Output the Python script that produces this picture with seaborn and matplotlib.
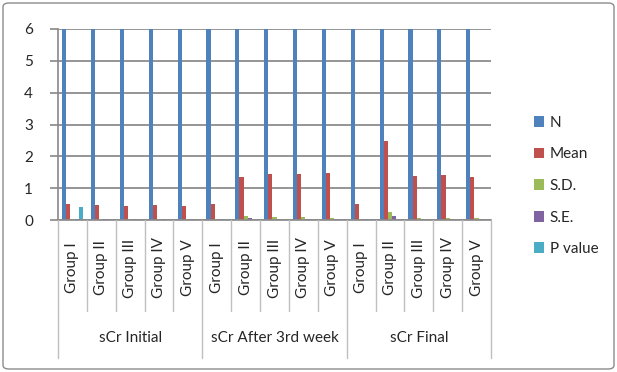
import matplotlib.pyplot as plt
import numpy as np
import pandas as pd
import seaborn as sns
from matplotlib.lines import Line2D
from matplotlib.patches import FancyBboxPatch, Patch
from matplotlib.transforms import blended_transform_factory

# Chart data
categories = ["sCr Initial", "sCr After 3rd week", "sCr Final"]
groups = ["Group I", "Group II", "Group III", "Group IV", "Group V"]
series = ["N", "Mean", "S.D.", "S.E.", "P value"]

n_vals = [6, 6, 6, 6, 6, 6, 6, 6, 6, 6, 6, 6, 6, 6, 6]
mean_vals = [0.51, 0.47, 0.45, 0.48, 0.45,
             0.49, 1.35, 1.46, 1.46, 1.48,
             0.51, 2.47, 1.38, 1.42, 1.35]
sd_vals = [0.04, 0.04, 0.04, 0.04, 0.04,
           0.03, 0.11, 0.08, 0.08, 0.06,
           0.03, 0.25, 0.07, 0.07, 0.07]
se_vals = [0.02, 0.02, 0.02, 0.02, 0.02,
           0.02, 0.05, 0.04, 0.04, 0.03,
           0.02, 0.11, 0.04, 0.04, 0.03]
p_vals = [0.42, np.nan, np.nan, np.nan, np.nan,
          0.02, np.nan, np.nan, np.nan, np.nan,
          0.02, np.nan, np.nan, np.nan, np.nan]

colors = ["#4F81BD", "#C0504D", "#9BBB59", "#8064A2", "#4BACC6"]

W, H = 617, 372

sns.set_theme(style="white")
plt.rcParams["font.family"] = ["Lato", "DejaVu Sans"]

# long table for seaborn
slots = [f"{c}|{g}" for c in categories for g in groups]
rows = []
for name, vals in zip(series, [n_vals, mean_vals, sd_vals, se_vals, p_vals]):
    for slot, v in zip(slots, vals):
        rows.append({"slot": slot, "series": name, "value": v})
df = pd.DataFrame(rows)

fig = plt.figure(figsize=(W / 100, H / 100), dpi=100)
ax = fig.add_axes([58 / W, 1 - 220 / H, (491 - 58) / W, (220 - 29) / H])

sns.barplot(data=df, x="slot", y="value", hue="series", order=slots,
            hue_order=series, palette=colors, saturation=1, width=0.72,
            linewidth=0, legend=False, ax=ax)

ax.set_ylim(0, 6)
ax.set_xlim(-0.5, len(slots) - 0.5)
ax.set_yticks(range(7))
ax.set_xticks([])
ax.set_xlabel("")
ax.set_ylabel("")
ax.yaxis.grid(True, color="#8c8c8c", linewidth=1.3)
ax.set_axisbelow(True)
for side in ["top", "right"]:
    ax.spines[side].set_visible(False)
ax.spines["left"].set_color("#8c8c8c")
ax.spines["bottom"].set_color("#8c8c8c")
ax.tick_params(axis="y", length=6, color="#8c8c8c", labelsize=11, pad=12,
               left=True)

# multi-level category axis
tr = blended_transform_factory(ax.transData, fig.transFigure)
sep = "#bfbfbf"
for i in range(len(slots) + 1):
    x = i - 0.5
    y_end = 358 if i % len(groups) == 0 else 311
    fig.add_artist(Line2D([x, x], [1 - 220 / H, 1 - y_end / H],
                          transform=tr, color=sep, linewidth=1))
for i, slot in enumerate(slots):
    fig.text(i, 1 - 268 / H, slot.split("|")[1], transform=tr, rotation=90,
             ha="center", va="center", fontsize=11)
for j, cat in enumerate(categories):
    xc = j * len(groups) + (len(groups) - 1) / 2
    fig.text(xc, 1 - 338 / H, cat, transform=tr, ha="center", va="center",
             fontsize=11)

handles = [Patch(facecolor=c, edgecolor="none", label=s)
           for s, c in zip(series, colors)]
fig.legend(handles=handles, loc="center left",
           bbox_to_anchor=(520 / W, 1 - 186 / H), frameon=False,
           fontsize=11, labelspacing=1.15, handlelength=0.7,
           handleheight=0.7, handletextpad=0.35)

fig.add_artist(FancyBboxPatch((3 / W, 3 / H), 1 - 6 / W, 1 - 6 / H,
                              boxstyle="round,pad=0,rounding_size=0.01",
                              transform=fig.transFigure, fill=False,
                              edgecolor="#8c8c8c", linewidth=1))

fig.savefig("out.png", dpi=100)
